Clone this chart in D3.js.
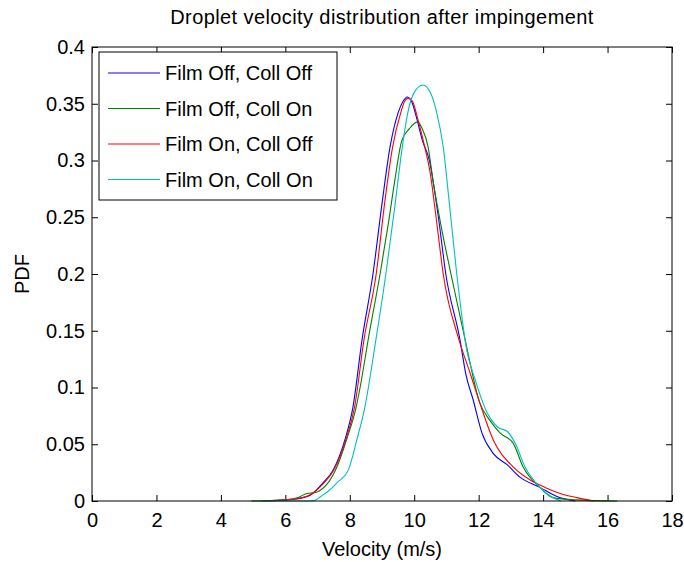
<!DOCTYPE html>
<meta charset="UTF-8">
<head>
    <script src="https://d3js.org/d3.v7.min.js"></script>
    <style>
        body { margin: 0; background: #fff; }
        text { font-family: "Liberation Sans", Arial, sans-serif; fill: #000; }
        .axis text { font-size: 20px; }
        .axis line { stroke: #000; }
        .line { fill: none; stroke-width: 1.1px; }
    </style>
</head>
<body>
<script>
    // velocity (m/s) and PDF
    var velFoCo = [5.6, 6.0, 6.35, 6.77, 7.17, 7.48, 7.85, 8.1, 8.38, 8.72, 9.0, 9.25, 9.5, 9.65, 9.78, 9.92, 10.05, 10.25, 10.47, 10.75, 10.98, 11.42, 11.6, 11.83, 12.1, 12.45, 12.88, 13.28, 13.9, 14.43, 15.0];
    var pdfFoCo = [0, 0.001, 0.002, 0.005, 0.016, 0.027, 0.054, 0.083, 0.142, 0.2, 0.262, 0.312, 0.342, 0.352, 0.356, 0.352, 0.34, 0.318, 0.3, 0.25, 0.2, 0.142, 0.112, 0.089, 0.06, 0.042, 0.032, 0.021, 0.012, 0.004, 0];

    var velFoCn = [4.94, 6.0, 6.4, 6.6, 6.98, 7.6, 7.9, 8.2, 8.32, 8.57, 8.94, 9.2, 9.4, 9.61, 9.85, 10.1, 10.25, 10.43, 10.58, 10.85, 11.14, 11.58, 12.04, 12.35, 12.66, 13.07, 13.38, 13.9, 14.3, 15.0, 16.3];
    var pdfFoCn = [0, 0.001, 0.003, 0.006, 0.008, 0.03, 0.054, 0.083, 0.1, 0.142, 0.2, 0.245, 0.283, 0.317, 0.328, 0.334, 0.328, 0.312, 0.283, 0.24, 0.2, 0.142, 0.086, 0.071, 0.06, 0.051, 0.03, 0.012, 0.003, 0.001, 0];

    var velFnCo = [5.3, 6.0, 6.4, 6.8, 7.2, 7.5, 7.88, 8.15, 8.44, 8.82, 9.08, 9.33, 9.58, 9.7, 9.82, 9.95, 10.08, 10.3, 10.49, 10.7, 10.9, 11.39, 11.73, 12.04, 12.45, 13.07, 13.6, 14.06, 14.6, 15.05, 15.55];
    var pdfFnCo = [0, 0.001, 0.002, 0.006, 0.016, 0.027, 0.054, 0.083, 0.142, 0.2, 0.262, 0.312, 0.342, 0.352, 0.355, 0.352, 0.34, 0.315, 0.29, 0.245, 0.2, 0.142, 0.113, 0.086, 0.054, 0.03, 0.0185, 0.012, 0.006, 0.003, 0];

    var velFnCn = [5.3, 6.6, 6.9, 7.1, 7.35, 7.6, 7.95, 8.22, 8.47, 8.81, 9.12, 9.4, 9.63, 9.8, 10.0, 10.27, 10.5, 10.7, 10.9, 11.08, 11.32, 11.63, 11.89, 12.26, 12.6, 12.9, 13.13, 13.44, 13.9, 14.3, 14.55];
    var pdfFnCn = [0, 0, 0.0005, 0.004, 0.009, 0.016, 0.027, 0.054, 0.083, 0.142, 0.2, 0.26, 0.312, 0.342, 0.36, 0.3665, 0.36, 0.342, 0.312, 0.265, 0.2, 0.133, 0.107, 0.078, 0.065, 0.061, 0.051, 0.03, 0.012, 0.003, 0];

    var seriesNames = ["Film Off, Coll Off", "Film Off, Coll On", "Film On, Coll Off", "Film On, Coll On"];
    var seriesColors = ["#0000ff", "#008000", "#ff0000", "#00bfbf"];
    var seriesVel = [velFoCo, velFoCn, velFnCo, velFnCn];
    var seriesPdf = [pdfFoCo, pdfFoCn, pdfFnCo, pdfFnCn];

    var xTicks = [0, 2, 4, 6, 8, 10, 12, 14, 16, 18];
    var yTicks = [0, 0.05, 0.1, 0.15, 0.2, 0.25, 0.3, 0.35, 0.4];

    // plot box
    var margin = { top: 47, right: 12, bottom: 61, left: 92 },
        width = 684 - margin.left - margin.right,
        height = 562 - margin.top - margin.bottom;

    var svg = d3.select("body")
        .append("svg")
        .attr("width", 684)
        .attr("height", 562);

    var g = svg.append("g")
        .attr("transform", "translate(" + margin.left + "," + margin.top + ")");

    var x = d3.scaleLinear().domain([0, 18]).range([0, width]);
    var y = d3.scaleLinear().domain([0, 0.4]).range([height, 0]);

    // axes, ticks pointing inward like matlab
    g.append("g")
        .attr("class", "axis")
        .attr("transform", "translate(0," + height + ")")
        .call(d3.axisBottom(x).tickValues(xTicks).tickSizeInner(-6).tickSizeOuter(0).tickPadding(12).tickFormat(d3.format("d")))
        .call(function (a) { a.select(".domain").remove(); });

    g.append("g")
        .attr("class", "axis")
        .call(d3.axisTop(x).tickValues(xTicks).tickSizeInner(-6).tickSizeOuter(0).tickFormat(""))
        .call(function (a) { a.select(".domain").remove(); });

    g.append("g")
        .attr("class", "axis")
        .call(d3.axisLeft(y).tickValues(yTicks).tickSizeInner(-6).tickSizeOuter(0).tickPadding(7).tickFormat(function (d) { return d3.format("")(+d.toFixed(2)); }))
        .call(function (a) { a.select(".domain").remove(); });

    g.append("g")
        .attr("class", "axis")
        .attr("transform", "translate(" + width + ",0)")
        .call(d3.axisRight(y).tickValues(yTicks).tickSizeInner(-6).tickSizeOuter(0).tickFormat(""))
        .call(function (a) { a.select(".domain").remove(); });

    // curves
    var line = d3.line()
        .x(function (d) { return x(d[0]); })
        .y(function (d) { return y(d[1]); })
        .curve(d3.curveMonotoneX);

    seriesNames.forEach(function (name, i) {
        var pts = seriesVel[i].map(function (v, j) { return [v, seriesPdf[i][j]]; });
        g.append("path")
            .attr("class", "line")
            .attr("stroke", seriesColors[i])
            .attr("d", line(pts));
    });

    g.append("rect")
        .attr("width", width)
        .attr("height", height)
        .attr("fill", "none")
        .attr("stroke", "#000")
        .attr("stroke-width", 1);

    // legend
    var legend = g.append("g").attr("transform", "translate(7,5)");
    legend.append("rect")
        .attr("width", 238)
        .attr("height", 148)
        .attr("fill", "#fff")
        .attr("stroke", "#000");

    seriesNames.forEach(function (name, i) {
        var ly = 21 + i * 35.5;
        legend.append("line")
            .attr("x1", 9).attr("x2", 61)
            .attr("y1", ly).attr("y2", ly)
            .attr("stroke", seriesColors[i])
            .attr("stroke-width", 1.2);
        legend.append("text")
            .attr("x", 66)
            .attr("y", ly + 7)
            .style("font-size", "20px")
            .text(name);
    });

    // labels
    svg.append("text")
        .attr("x", margin.left + width / 2)
        .attr("y", 24)
        .attr("text-anchor", "middle")
        .style("font-size", "20px")
        .style("letter-spacing", "0.4px")
        .text("Droplet velocity distribution after impingement");

    svg.append("text")
        .attr("x", margin.left + width / 2)
        .attr("y", 556)
        .attr("text-anchor", "middle")
        .style("font-size", "20px")
        .text("Velocity (m/s)");

    svg.append("text")
        .attr("transform", "translate(29," + (margin.top + height / 2) + ") rotate(-90)")
        .attr("text-anchor", "middle")
        .style("font-size", "20px")
        .text("PDF");
</script>
</body>
